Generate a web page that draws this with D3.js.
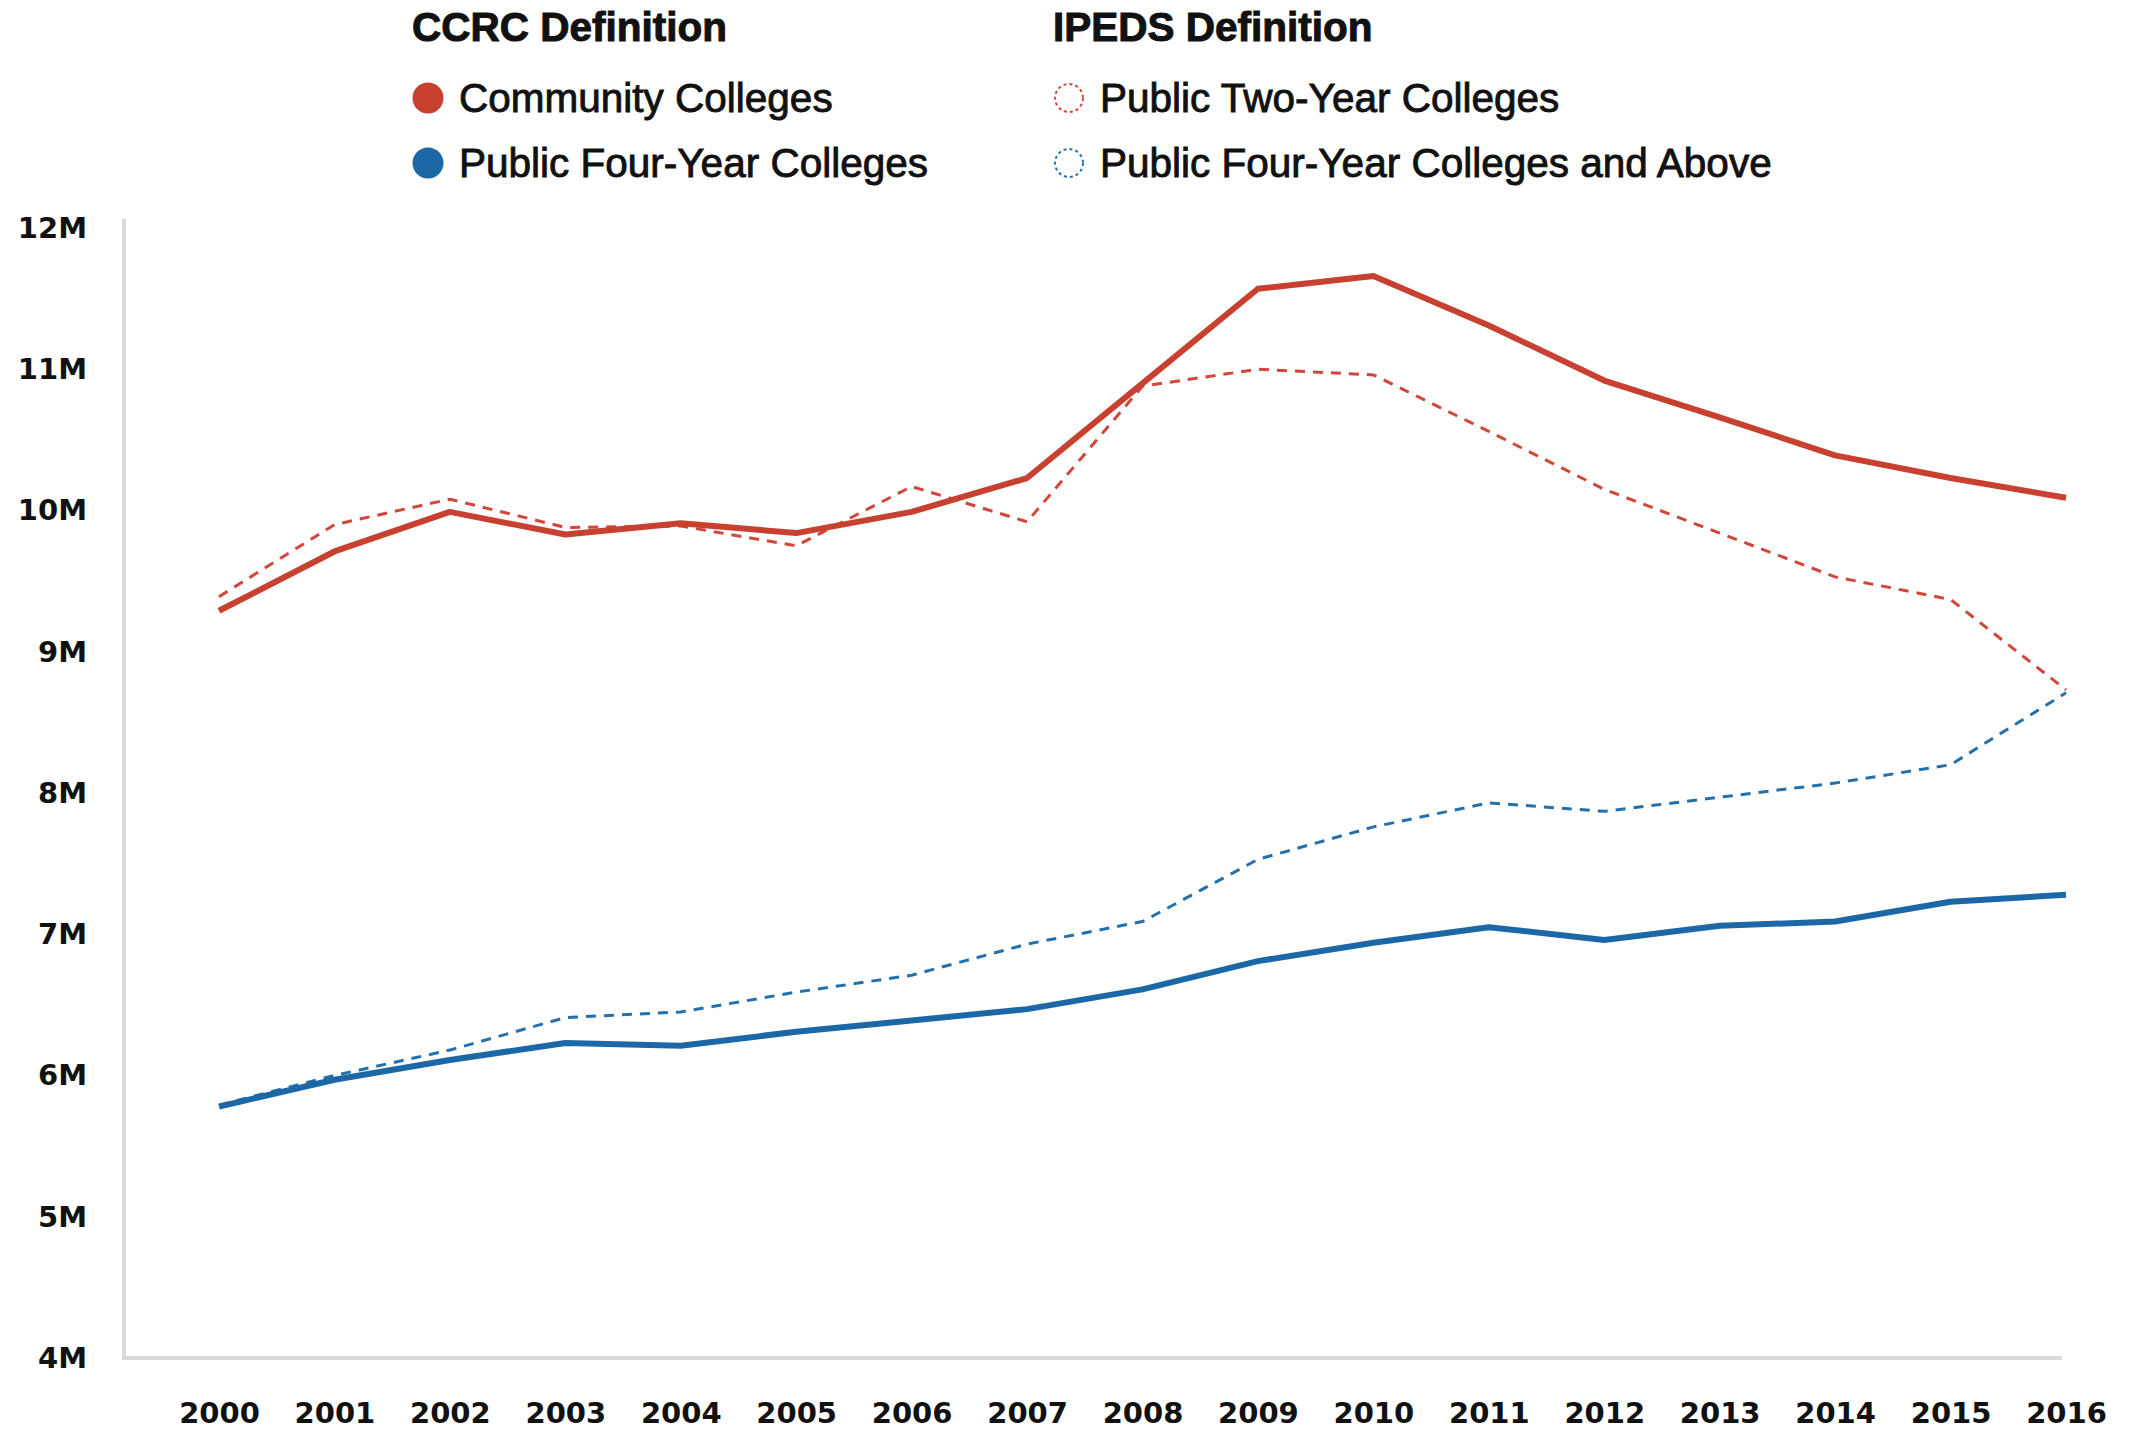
<!DOCTYPE html>
<html>
<head>
<meta charset="utf-8">
<script src="https://cdn.jsdelivr.net/npm/d3@7"></script>
<style>
  body { margin: 0; background: #fff; }
  svg { display: block; }
  .tick text { font-family: 'DejaVu Sans', sans-serif; font-weight: bold; fill: #111; }
</style>
</head>
<body>
<svg id="chart" width="2145" height="1435"></svg>
<script>
'use strict'

const years = d3.range(2000, 2017)

// enrollment, millions
const communityColleges = [9.29, 9.71, 9.99, 9.83, 9.91, 9.84, 9.99, 10.23, 10.90, 11.57, 11.66, 11.31, 10.92, 10.66, 10.39, 10.23, 10.09]
const publicTwoYear = [9.39, 9.90, 10.08, 9.88, 9.89, 9.75, 10.17, 9.92, 10.88, 11.00, 10.96, 10.56, 10.15, 9.84, 9.53, 9.37, 8.73]
const publicFourYear = [5.78, 5.97, 6.11, 6.23, 6.21, 6.31, 6.39, 6.47, 6.61, 6.81, 6.94, 7.05, 6.96, 7.06, 7.09, 7.23, 7.28]
const publicFourYearAbove = [5.79, 6.00, 6.18, 6.41, 6.45, 6.59, 6.71, 6.93, 7.09, 7.53, 7.76, 7.93, 7.87, 7.97, 8.07, 8.20, 8.71]

const yTicks = [4, 5, 6, 7, 8, 9, 10, 11, 12]

const RED = '#c8402f'
const BLUE = '#1c68a6'

const series = [
  { name: 'Public Two-Year Colleges', values: publicTwoYear, color: '#d0473a', dashed: true },
  { name: 'Public Four-Year Colleges and Above', values: publicFourYearAbove, color: '#2470ad', dashed: true },
  { name: 'Community Colleges', values: communityColleges, color: RED, dashed: false },
  { name: 'Public Four-Year Colleges', values: publicFourYear, color: BLUE, dashed: false }
]

const svg = d3.select('#chart')

const x = d3.scaleLinear().domain([2000, 2016]).range([219, 2066])
const y = d3.scaleLinear().domain([4, 12]).range([1358, 228])

// axis frame
const axisLeftX = 124
svg.append('line')
  .attr('x1', axisLeftX).attr('x2', axisLeftX)
  .attr('y1', 219).attr('y2', y(4))
  .attr('stroke', '#d9d9d9').attr('stroke-width', 4)
svg.append('line')
  .attr('x1', axisLeftX - 2).attr('x2', x(2016) - 4)
  .attr('y1', y(4)).attr('y2', y(4))
  .attr('stroke', '#d9d9d9').attr('stroke-width', 4)

const yAxis = svg.append('g')
  .attr('transform', `translate(${axisLeftX},0)`)
  .call(d3.axisLeft(y).tickValues(yTicks).tickSize(0).tickPadding(37).tickFormat(d => `${d}M`))
yAxis.select('.domain').remove()
yAxis.selectAll('text').style('font-size', '29px')

const xAxis = svg.append('g')
  .attr('transform', `translate(0,${y(4)})`)
  .call(d3.axisBottom(x).tickValues(years).tickSize(0).tickPadding(44).tickFormat(d3.format('d')))
xAxis.select('.domain').remove()
xAxis.selectAll('text').style('font-size', '29px')

const line = d3.line()
  .x((d, i) => x(years[i]))
  .y(d => y(d))

svg.append('g').selectAll('path')
  .data(series)
  .join('path')
  .attr('d', s => line(s.values))
  .attr('fill', 'none')
  .attr('stroke', s => s.color)
  .attr('stroke-width', s => s.dashed ? 3 : 6)
  .attr('stroke-dasharray', s => s.dashed ? '10,8' : null)
  .attr('stroke-linejoin', 'round')

// legend
const legend = svg.append('g')
  .style('font-family', "'Liberation Sans', Arial, sans-serif")

const groups = [
  { title: 'CCRC Definition', x: 412, items: [series[2], series[3]] },
  { title: 'IPEDS Definition', x: 1053, items: [series[0], series[1]] }
]

groups.forEach(g => {
  legend.append('text')
    .attr('x', g.x)
    .attr('y', 41)
    .style('font-size', '40.5px')
    .style('font-weight', 'bold')
    .attr('fill', '#111')
    .attr('stroke', '#111')
    .attr('stroke-width', 1)
    .text(g.title)

  g.items.forEach((s, i) => {
    const cy = 98 + i * 65
    legend.append('circle')
      .attr('cx', g.x + 16)
      .attr('cy', cy)
      .attr('r', s.dashed ? 14 : 15.5)
      .attr('fill', s.dashed ? 'none' : s.color)
      .attr('stroke', s.dashed ? s.color : 'none')
      .attr('stroke-width', 2)
      .attr('stroke-dasharray', s.dashed ? '3,3' : null)
    legend.append('text')
      .attr('x', g.x + 47)
      .attr('y', cy + 14)
      .style('font-size', '40.5px')
      .attr('fill', '#111')
      .attr('stroke', '#111')
      .attr('stroke-width', 0.9)
      .text(s.name)
  })
})
</script>
</body>
</html>
